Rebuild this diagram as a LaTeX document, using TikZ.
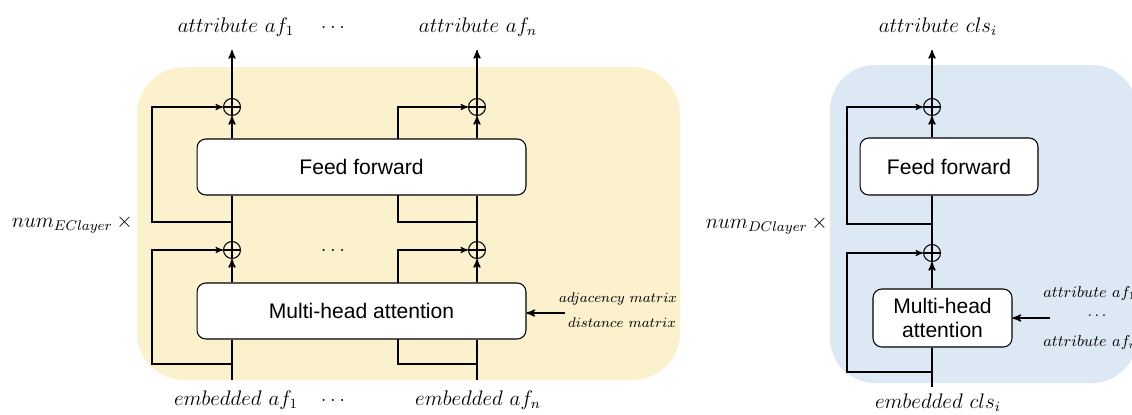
\documentclass[tikz,border=0pt]{standalone}
\usepackage{amsmath}
\usepackage{fontspec}
\setsansfont{Liberation Sans}
\usepackage{tikz}
\usetikzlibrary{arrows,shapes,positioning}
\definecolor{encfill}{HTML}{FCF1CD}
\definecolor{decfill}{HTML}{DDE8F5}
\tikzset{style={>=stealth'}}
\tikzset{block/.style={rectangle, rounded corners=5pt, fill=white, draw=black, line width=0.6pt, font=\sffamily\fontsize{12}{14}\selectfont, align=center, inner sep=0mm}}
\tikzset{addop/.style={circle, draw=black, line width=0.6pt, minimum size=0.34cm, inner sep=0mm, path picture={\draw[line width=0.6pt] (path picture bounding box.north) -- (path picture bounding box.south) (path picture bounding box.west) -- (path picture bounding box.east);}}}
\tikzset{iolabel/.style={font=\fontsize{12}{14}\selectfont, inner sep=0mm}}
\tikzset{sidelabel/.style={font=\fontsize{8}{10}\selectfont, inner sep=0mm}}
\tikzset{flow/.style={line width=0.8pt}}
\tikzset{skip/.style={line width=0.6pt}}
\begin{document}
\begin{tikzpicture}[x=0.02cm, y=-0.02cm]
    \useasboundingbox (0,0) rectangle (1132,414);
    \fill[encfill, rounded corners=0.95cm] (137,67) rectangle (680,380);
    \fill[decfill, rounded corners=0.9cm] (830,65) rectangle (1137,383);

    % encoder
    \node[addop] (up1) at (232,107) {};
    \node[addop] (lo1) at (232,250) {};
    \node[addop] (up2) at (477,107) {};
    \node[addop] (lo2) at (477,250) {};
    \coordinate (in1)  at (232,380);
    \coordinate (in2)  at (477,380);
    \coordinate (out1) at (232,50);
    \coordinate (out2) at (477,50);
    \coordinate (br1lo) at (232,364);
    \coordinate (br1up) at (232,222);
    \coordinate (br2lo) at (477,364);
    \coordinate (br2up) at (477,222);
    \coordinate (sk1lo) at (152,364);
    \coordinate (sk1up) at (152,222);
    \coordinate (sk2lo) at (398,364);
    \coordinate (sk2up) at (398,222);

    \draw[skip,->] (br1lo) -- (sk1lo) |- (lo1);
    \draw[skip,->] (br1up) -- (sk1up) |- (up1);
    \draw[skip,->] (br2lo) -- (sk2lo) |- (lo2);
    \draw[skip,->] (br2up) -- (sk2up) |- (up2);

    \node[block, minimum width=6.58cm, minimum height=1.12cm] (ff1)  at (361.5,167) {Feed forward};
    \node[block, minimum width=6.58cm, minimum height=1.12cm] (mha1) at (361.5,311) {Multi-head attention};

    \draw[flow] (in1) -- (mha1.south -| in1);
    \draw[flow,->] (mha1.north -| lo1) -- (lo1);
    \draw[flow] (lo1) -- (ff1.south -| lo1);
    \draw[flow,->] (ff1.north -| up1) -- (up1);
    \draw[flow,->] (up1) -- (out1);
    \draw[flow] (in2) -- (mha1.south -| in2);
    \draw[flow,->] (mha1.north -| lo2) -- (lo2);
    \draw[flow] (lo2) -- (ff1.south -| lo2);
    \draw[flow,->] (ff1.north -| up2) -- (up2);
    \draw[flow,->] (up2) -- (out2);

    \coordinate (matsrc) at (565,313);
    \draw[flow,->] (matsrc) -- (mha1.east |- matsrc);
    \node[sidelabel] (adj)  at (618,299) {$adjacency\ matrix$};
    \node[sidelabel] (dist) at (622,323) {$distance\ matrix$};

    \node[iolabel] (att1) at (236,27) {$attribute\ af_1$};
    \node[iolabel] (attd) at (333,27) {$\ldots$};
    \node[iolabel] (attn) at (478,27) {$attribute\ af_n$};
    \node[iolabel] (emb1) at (236,400) {$embedded\ af_1$};
    \node[iolabel] (embd) at (333,400) {$\ldots$};
    \node[iolabel] (embn) at (478,400) {$embedded\ af_n$};
    \node[iolabel] (midd) at (333,250) {$\ldots$};
    \node[iolabel, anchor=east] (nenc) at (133,224) {$num_{EClayer}\,{\times}$};

    % decoder
    \node[addop] (up3) at (932,107) {};
    \node[addop] (lo3) at (932,253) {};
    \coordinate (in3)  at (932,387);
    \coordinate (out3) at (932,50);
    \coordinate (br3lo) at (932,372);
    \coordinate (br3up) at (932,224);
    \coordinate (sk3lo) at (847,372);
    \coordinate (sk3up) at (847,224);

    \draw[skip,->] (br3lo) -- (sk3lo) |- (lo3);
    \draw[skip,->] (br3up) -- (sk3up) |- (up3);

    \node[block, minimum width=3.56cm, minimum height=1.14cm] (ff3)  at (949,166.5) {Feed forward};
    \node[block, minimum width=2.78cm, minimum height=1.16cm] (mha3) at (942.5,318) {Multi-head\\attention};

    \draw[flow] (in3) -- (mha3.south -| in3);
    \draw[flow,->] (mha3.north -| lo3) -- (lo3);
    \draw[flow] (lo3) -- (ff3.south -| lo3);
    \draw[flow,->] (ff3.north -| up3) -- (up3);
    \draw[flow,->] (up3) -- (out3);

    \coordinate (attsrc) at (1050,318);
    \draw[flow,->] (attsrc) -- (mha3.east |- attsrc);
    \node[sidelabel, font=\fontsize{9}{11}\selectfont, anchor=west] (srca1) at (1043,294) {$attribute\ af_1$};
    \node[sidelabel, font=\fontsize{9}{11}\selectfont] (srcd) at (1097,316) {$\ldots$};
    \node[sidelabel, font=\fontsize{9}{11}\selectfont, anchor=west] (srcan) at (1043,343) {$attribute\ af_n$};

    \node[iolabel] (attc) at (938,27) {$attribute\ cls_i$};
    \node[iolabel] (embc) at (938,403) {$embedded\ cls_i$};
    \node[iolabel, anchor=east] (ndec) at (828,225) {$num_{DClayer}\,{\times}$};
\end{tikzpicture}
\end{document}
